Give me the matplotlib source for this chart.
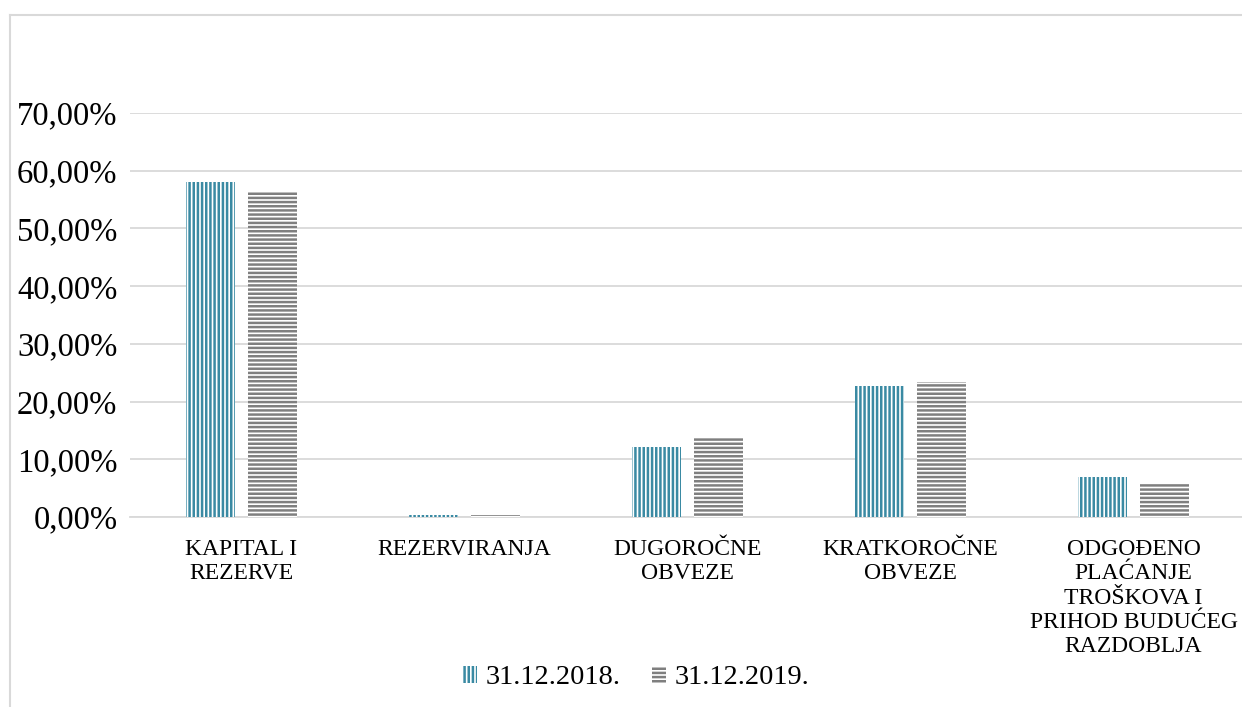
import matplotlib
matplotlib.use("Agg")
import matplotlib.pyplot as plt
import numpy as np
from matplotlib.ticker import FuncFormatter
from matplotlib.lines import Line2D

# data
categories = ["KAPITAL I\nREZERVE", "REZERVIRANJA", "DUGOROČNE\nOBVEZE",
              "KRATKOROČNE\nOBVEZE",
              "ODGOĐENO\nPLAĆANJE\nTROŠKOVA I\nPRIHOD BUDUĆEG\nRAZDOBLJA"]
series_names = ["31.12.2018.", "31.12.2019."]
values_2018 = [58.1, 0.3, 12.1, 22.7, 6.9]
values_2019 = [56.3, 0.4, 13.9, 23.4, 5.9]
y_ticks = [0, 10, 20, 30, 40, 50, 60, 70]

teal = "#3a8aa3"
grey = "#7f7f7f"
grid_col = "#d9d9d9"

plt.rcParams["font.family"] = ["Liberation Serif", "DejaVu Serif"]
plt.rcParams["hatch.linewidth"] = 1.8

W, H = 1242, 707
fig = plt.figure(figsize=(W / 100, H / 100), dpi=100)

# chart area border (runs off the right/bottom edge like the original)
fig.add_artist(Line2D([10 / W, 1.0], [1 - 15 / H, 1 - 15 / H], transform=fig.transFigure,
                      color=grid_col, lw=1.5))
fig.add_artist(Line2D([10 / W, 10 / W], [1 - 15 / H, 0.0], transform=fig.transFigure,
                      color=grid_col, lw=1.5))

ax = fig.add_axes([130 / W, 1 - 517 / H, (1245 - 130) / W, (517 - 113) / H])

x = np.arange(len(categories))
bw = 0.22
off = 0.14
ax.bar(x - off, values_2018, bw, facecolor="white", edgecolor=teal, hatch="||||",
       linewidth=0, label=series_names[0], zorder=3)
ax.bar(x + off, values_2019, bw, facecolor="white", edgecolor=grey, hatch="----",
       linewidth=0, label=series_names[1], zorder=3)

ax.set_xlim(-0.5, len(categories) - 0.5)
ax.set_ylim(0, 70)
ax.set_yticks(y_ticks)
ax.yaxis.set_major_formatter(FuncFormatter(lambda v, p: f"{v:.2f}%".replace(".", ",")))
ax.set_xticks(x)
ax.set_xticklabels(categories, fontsize=17, linespacing=1.2, va="top")
ax.tick_params(axis="x", length=0, pad=16)
ax.tick_params(axis="y", length=0, pad=9, labelsize=23.5)
ax.grid(axis="y", color=grid_col, lw=1.3, zorder=0)
for s in ["top", "right", "left"]:
    ax.spines[s].set_visible(False)
ax.spines["bottom"].set_color(grid_col)
ax.spines["bottom"].set_linewidth(1.3)

fig.legend(loc="center", bbox_to_anchor=(636 / W, 1 - 678 / H), ncol=2, frameon=False,
           fontsize=20.5, handlelength=0.5, handleheight=0.5, handletextpad=0.3,
           columnspacing=1.1)

fig.savefig("out.png", dpi=100)
